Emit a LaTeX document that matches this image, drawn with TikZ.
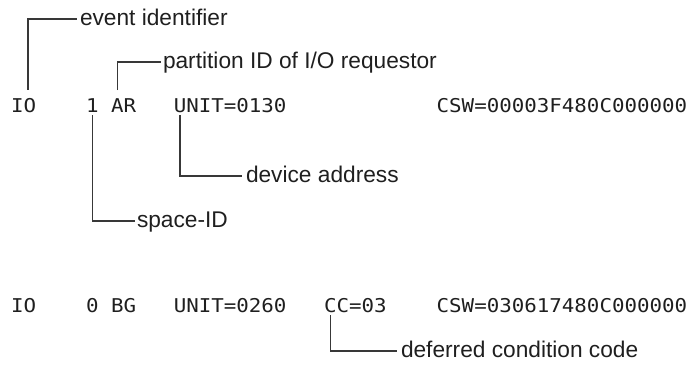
\documentclass[tikz,border=0pt]{standalone}
\usepackage{fontspec}
\setmainfont{Liberation Sans}
\newfontfamily\codefont[FakeStretch=1.095]{DejaVu Sans Mono}
\begin{document}
\begin{tikzpicture}[x=1bp,y=-1bp,
  code/.style={anchor=base west,inner sep=0,outer sep=0,
    font=\codefont\fontsize{19bp}{22bp}\selectfont,text=black!88},
  note/.style={anchor=base west,inner sep=0,outer sep=0,
    font=\fontsize{22.7bp}{26bp}\selectfont,text=black!88},
  lead/.style={draw=black!78,line width=1.1bp}]
\useasboundingbox (0,0) rectangle (689,370);

% first trace line (columns: 12.52bp per character)
\node[code] (io1)   at (11,112)     {IO};
\node[code] (sp1)   at (86.12,112)  {1};
\node[code] (ar)    at (111.16,112) {AR};
\node[code] (unit1) at (173.76,112) {UNIT=0130};
\node[code] (csw1)  at (436.68,112) {CSW=00003F480C000000};

% second trace line
\node[code] (io2)   at (11,312)     {IO};
\node[code] (sp2)   at (86.12,312)  {0};
\node[code] (bg)    at (111.16,312) {BG};
\node[code] (unit2) at (173.76,312) {UNIT=0260};
\node[code] (cc)    at (324.0,312)  {CC=03};
\node[code] (csw2)  at (436.68,312) {CSW=030617480C000000};

% field descriptions
\node[note] (evt)  at (80,25)   {event identifier};
\node[note] (part) at (163,68)  {partition ID of I/O requestor};
\node[note] (dev)  at (246,182) {device address};
\node[note] (spc)  at (137,227) {space-ID};
\node[note] (def)  at (401,357) {deferred condition code};

% leader lines
\draw[lead] ([xshift=17bp,yshift=8bp]io1.north west) |- ([xshift=-3bp,yshift=6bp]evt.base west);
\draw[lead] ([xshift=6.26bp,yshift=8bp]ar.north west) |- ([xshift=-2bp,yshift=6bp]part.base west);
\draw[lead] ([xshift=6.26bp,yshift=-3bp]unit1.south west) |- ([xshift=-4bp,yshift=6bp]dev.base west);
\draw[lead] ([xshift=6.26bp,yshift=-3bp]sp1.south west) |- ([xshift=-2bp,yshift=6bp]spc.base west);
\draw[lead] ([xshift=6.26bp,yshift=-3bp]cc.south west) |- ([xshift=-4bp,yshift=6bp]def.base west);
\end{tikzpicture}
\end{document}
